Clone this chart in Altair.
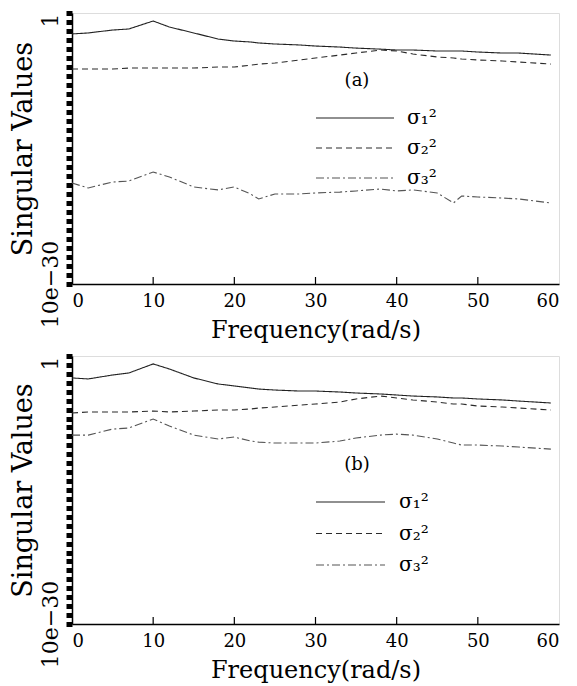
import altair as alt
import pandas as pd

# ---------------- data ----------------
freq = [0, 2, 5, 7, 10, 12, 15, 18, 20, 22, 23, 25, 28, 30, 33, 35, 38, 40,
        42, 45, 47, 48, 50, 53, 55, 59]

series_names = ["s1", "s2", "s3"]
series_labels = ["σ₁²", "σ₂²", "σ₃²"]

# panel (a)
a_s1 = [4.8e-3, 6.2e-3, 1.3e-2, 1.7e-2, 1.3e-1, 2.8e-2, 6.2e-3, 1.3e-3, 7.9e-4,
        6.2e-4, 4.8e-4, 3.7e-4, 2.9e-4, 2.2e-4, 1.7e-4, 1.3e-4, 1.0e-4, 8.0e-5,
        8.0e-5, 6.2e-5, 6.2e-5, 6.2e-5, 4.8e-5, 3.7e-5, 3.7e-5, 2.2e-5]
a_s2 = [6.3e-7, 6.3e-7, 6.3e-7, 8.1e-7, 8.1e-7, 8.1e-7, 8.1e-7, 1.05e-6, 1.05e-6,
        1.7e-6, 2.2e-6, 2.9e-6, 6.3e-6, 1.05e-5, 2.2e-5, 3.7e-5, 8.0e-5, 6.2e-5,
        2.9e-5, 1.35e-5, 1.05e-5, 8.1e-6, 6.3e-6, 4.9e-6, 3.8e-6, 2.2e-6]
a_s3 = [1.5e-19, 4.3e-20, 1.95e-19, 2.5e-19, 2.5e-18, 7.0e-19, 5.5e-20, 2.6e-20,
        5.5e-20, 9.2e-21, 2.6e-21, 9.2e-21, 9.2e-21, 1.2e-20, 1.5e-20, 2.0e-20,
        3.3e-20, 2.0e-20, 2.6e-20, 1.2e-20, 9.3e-22, 5.5e-21, 4.3e-21, 3.3e-21,
        2.6e-21, 9.3e-22]

# panel (b)
b_s1 = [3.5e-3, 2.7e-3, 7.5e-3, 1.25e-2, 1.3e-1, 3.5e-2, 3.5e-3, 7.4e-4, 4.4e-4,
        2.6e-4, 2.0e-4, 1.55e-4, 1.2e-4, 1.2e-4, 9.3e-5, 7.2e-5, 5.6e-5, 4.3e-5,
        3.3e-5, 2.6e-5, 2.0e-5, 2.0e-5, 1.55e-5, 1.2e-5, 9.1e-6, 5.5e-6]
b_s2 = [4.2e-7, 5.4e-7, 5.4e-7, 5.4e-7, 6.9e-7, 5.4e-7, 6.9e-7, 9.1e-7, 9.1e-7,
        1.17e-6, 1.5e-6, 1.95e-6, 3.2e-6, 4.2e-6, 7.1e-6, 1.55e-5, 3.3e-5, 2.0e-5,
        1.2e-5, 7.1e-6, 4.2e-6, 4.2e-6, 2.5e-6, 1.95e-6, 1.5e-6, 9.1e-7]
b_s3 = [1.4e-9, 1.4e-9, 6.6e-9, 8.7e-9, 8.9e-8, 1.45e-8, 1.4e-9, 5.1e-10, 8.5e-10,
        3.0e-10, 2.3e-10, 1.8e-10, 1.8e-10, 1.8e-10, 3.0e-10, 6.6e-10, 1.4e-9,
        1.8e-9, 1.4e-9, 5.1e-10, 1.8e-10, 1.07e-10, 1.07e-10, 8.3e-11, 6.4e-11,
        3.8e-11]

x_ticks = [0, 10, 20, 30, 40, 50, 60]
inner_ticks = [10, 20, 30, 40, 50]
y_ticks = [10.0 ** (-k) for k in range(31)]

# ---------------- styling ----------------
FONT = "DejaVu Serif"
W = 487
DASHES = [[1, 0], [6, 4], [8, 3, 2, 3]]
dash_scale = alt.Scale(domain=series_names, range=DASHES)
color_scale = alt.Scale(domain=series_names, range=["#222", "#2a2a2a", "#555"])


def panel(tag, s1, s2, s3, height, leg_top, leg_bot, rule_x2, lab_x, tag_y):
    rows = []
    for name, vals in zip(series_names, [s1, s2, s3]):
        for f, v in zip(freq, vals):
            rows.append({"freq": f, "val": v, "series": name})
    df = pd.DataFrame(rows)

    xenc = alt.X(
        "freq:Q",
        scale=alt.Scale(domain=[0, 60], nice=False),
        axis=alt.Axis(
            values=x_ticks, title="Frequency(rad/s)", ticks=False,
            labelFont=FONT, labelFontSize=18, labelColor="black",
            labelPadding=8, titleFont=FONT, titleFontSize=24,
            titleFontWeight="normal", titleColor="black", titlePadding=8,
            domainColor="black", domainWidth=1.5, grid=False,
        ),
    )
    yenc = alt.Y(
        "val:Q",
        scale=alt.Scale(type="log", domain=[1e-30, 1], nice=False),
        axis=alt.Axis(
            values=y_ticks, title="Singular Values", grid=False,
            labelExpr="datum.value >= 0.5 ? '1' : (datum.value < 1e-29 ? '10e−30' : '')",
            labelAngle=270,
            labelAlign={"condition": {"test": "datum.value >= 0.5", "value": "right"},
                        "value": "center"},
            labelBaseline="bottom",
            labelOverlap=False, labelFont=FONT, labelFontSize=22,
            labelColor="black", labelPadding=4,
            tickSize=6, tickWidth=5, tickColor="black",
            domainColor="black", domainWidth=1.5,
            titleFont=FONT, titleFontSize=27, titleFontWeight="normal",
            titleColor="black", titlePadding=2,
        ),
    )

    lines = alt.Chart(df).mark_line(strokeWidth=1.1).encode(
        x=xenc, y=yenc,
        strokeDash=alt.StrokeDash("series:N", scale=dash_scale, legend=None),
        color=alt.Color("series:N", scale=color_scale, legend=None),
    )

    ticks = alt.Chart(pd.DataFrame({"freq": inner_ticks})).mark_rule(
        color="black", strokeWidth=1.2
    ).encode(x="freq:Q", y=alt.value(height), y2=alt.value(height - 7))

    leg_df = pd.DataFrame({"series": series_names, "label": series_labels})
    leg_y = alt.Y(
        "series:N",
        scale=alt.Scale(type="point", domain=series_names,
                        range=[leg_top, leg_bot], padding=0),
        axis=None,
    )
    leg_rules = alt.Chart(leg_df).mark_rule(strokeWidth=1.2).encode(
        x=alt.value(244), x2=alt.value(rule_x2), y=leg_y,
        strokeDash=alt.StrokeDash("series:N", scale=dash_scale, legend=None),
        color=alt.Color("series:N", scale=color_scale, legend=None),
    )
    leg_text = alt.Chart(leg_df).mark_text(
        align="left", baseline="middle", font=FONT, fontSize=20, color="black"
    ).encode(x=alt.value(lab_x), y=leg_y, text="label:N")

    tag_text = alt.Chart(pd.DataFrame({"tag": [tag]})).mark_text(
        font=FONT, fontSize=18, color="black"
    ).encode(x=alt.value(285), y=alt.value(tag_y), text="tag:N")

    return alt.layer(lines, ticks, leg_rules, leg_text, tag_text).resolve_scale(
        y="independent"
    ).properties(width=W, height=height)


top = panel("(a)", a_s1, a_s2, a_s3, 271, 105, 165, 322, 335, 68)
bot = panel("(b)", b_s1, b_s2, b_s3, 268, 146, 209, 313, 327, 109)

chart = alt.vconcat(top, bot, spacing=10).properties(
    padding={"left": 0, "top": 2, "right": 0, "bottom": 0}
).configure_view(stroke="black", strokeWidth=1.5).configure(background="white")

chart.save("out.html", embed_options={"renderer": "svg", "actions": False})
